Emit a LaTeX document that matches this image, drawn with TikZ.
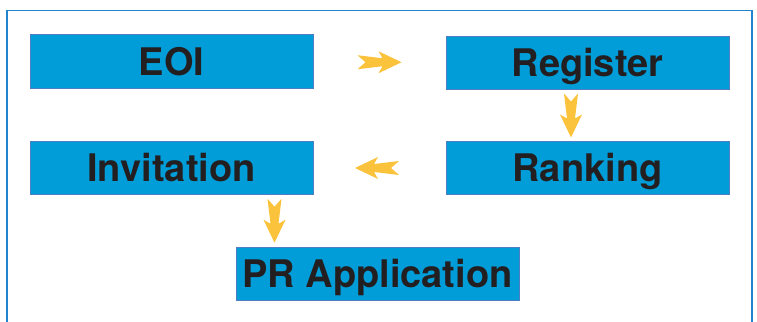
\documentclass[tikz,border=0pt]{standalone}
\usepackage{fontspec}
\setmainfont{TeX Gyre Heros}
\usetikzlibrary{calc}
\definecolor{boxfill}{HTML}{009DD9}
\definecolor{boxline}{HTML}{4F7EC4}
\definecolor{frameblue}{HTML}{2283CF}
\definecolor{arrowyellow}{HTML}{FBC33C}
\definecolor{txtdark}{HTML}{231F20}
\begin{document}
\begin{tikzpicture}[x=1pt,y=-1pt,
  stepbox/.style={draw=boxline,line width=1pt,fill=boxfill,inner sep=0pt,
    minimum width=283pt,minimum height=53pt,text=txtdark,
    font=\fontsize{38}{40}\selectfont\bfseries,text height=27.4pt,text depth=0pt},
  flowarrow/.pic={\fill[arrowyellow] (-22,7)--(-14,0)--(-22,-7)--(3,-4)--(-1,-11)--(22,0)--(-1,11)--(3,4)--cycle;}
]
\useasboundingbox (0,0) rectangle (757,321);
\fill[white] (0,0) rectangle (757,321);
\draw[frameblue,line width=1.6pt] (7,322) -- (7,10.5) -- (752,10.5) -- (752,322);
\node[stepbox] (eoi) at (171.5,61.5) {EOI};
\node[stepbox] (reg) at (587.5,63) {Register};
\node[stepbox] (rank) at (587.5,168) {Ranking};
\node[stepbox] (inv) at (171.5,168) {Invitation};
\node[stepbox] (pr) at (377.5,273.5) {PR Application};
\pic at ($(eoi.east)!0.5!(reg.west)$) {flowarrow};
\pic[rotate=-90] at ($(reg.south)!0.5!(rank.north)+(-16.5,0)$) {flowarrow};
\pic[rotate=180] at ($(rank.west)!0.5!(inv.east)+(-2.5,0)$) {flowarrow};
\pic[rotate=-90] at ($(inv.south)!0.5!(pr.north)$) {flowarrow};
\end{tikzpicture}
\end{document}
